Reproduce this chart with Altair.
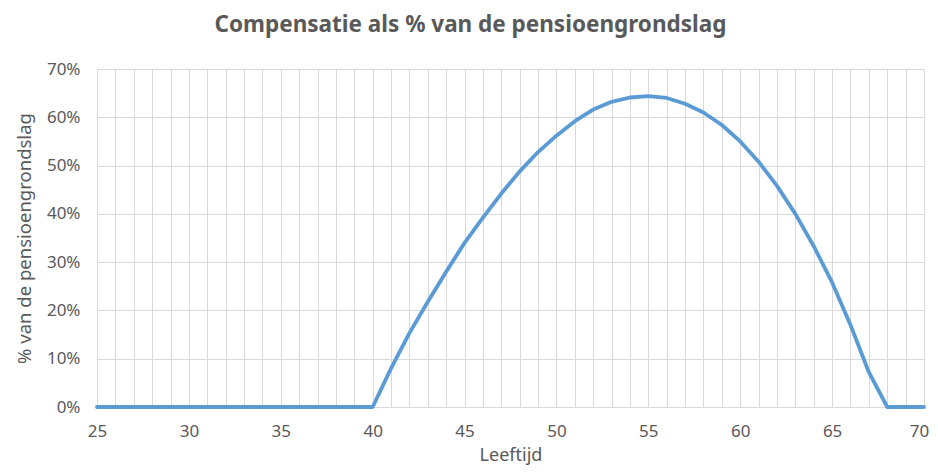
import altair as alt
import pandas as pd

ages = list(range(25, 71))
values_pct = [0] * 15 + [
    0, 8, 15.3, 21.8, 28, 34, 39.2, 44.2, 48.8, 52.8,
    56.2, 59.2, 61.6, 63.2, 64.1, 64.4, 64.0, 62.8, 61.0, 58.4,
    55.0, 50.8, 45.8, 40.0, 33.3, 25.8, 17.0, 7.2, 0, 0, 0
]

df = pd.DataFrame({"age": ages, "val": [v / 100 for v in values_pct]})

FONT = "Noto Sans"
GREY = "#595959"

chart = alt.Chart(df).mark_line(color="#5B9BD5", strokeWidth=3.8, strokeCap="round", strokeJoin="round").encode(
    x=alt.X("age:Q", scale=alt.Scale(domain=[25, 70], nice=False, zero=False),
            axis=alt.Axis(values=ages, labelExpr="datum.value % 5 == 0 ? datum.label : ''",
                          title="Leeftijd", ticks=False, domain=False, grid=True,
                          gridColor="#d9d9d9", labelPadding=16, titlePadding=7,
                          titleFontSize=18,
                          labelOffset={"condition": {"test": "datum.value == 70", "value": -5}, "value": 0},
                          labelFlush=False, labelOverlap=False)),
    y=alt.Y("val:Q", scale=alt.Scale(domain=[0, 0.7], nice=False),
            axis=alt.Axis(values=[i / 10 for i in range(8)], format=".0%",
                          title="% van de pensioengrondslag", ticks=False, domain=False,
                          titleFontSize=18.5,
                          grid=True, gridColor="#d9d9d9", labelPadding=17, titlePadding=12)),
).properties(
    width=827, height=338,
    autosize=alt.AutoSizeParams(type="none"),
    padding={"left": 89, "top": 61, "right": 6, "bottom": 58},
    title=alt.TitleParams("Compensatie als % van de pensioengrondslag", fontSize=22.5,
                          fontWeight="bold", color=GREY, font=FONT, dx=-40, offset=24,
                          anchor="middle"),
).configure_axis(
    labelFont=FONT, titleFont=FONT, labelColor=GREY, titleColor=GREY,
    labelFontSize=17, titleFontWeight="normal", gridWidth=1
).configure_view(stroke=None)

chart.save("out.html", embed_options={"renderer": "svg", "actions": False})
